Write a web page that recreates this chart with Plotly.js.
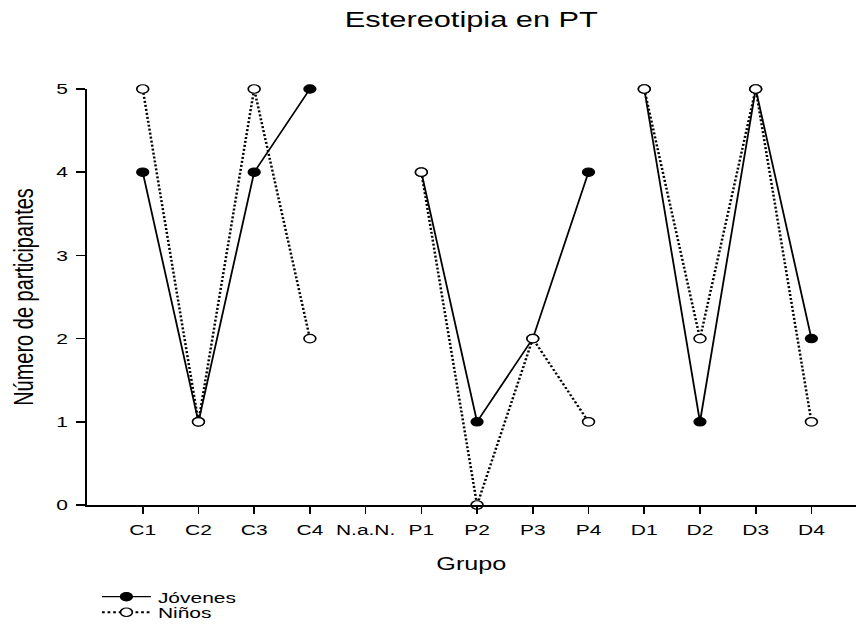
<!DOCTYPE html>
<html>
<head>
<meta charset="utf-8">
<script src="https://cdn.plot.ly/plotly-3.0.1.min.js"></script>
<style>
html,body{margin:0;padding:0;background:#fff;overflow:hidden;}
/* The figure is drawn narrow and widened to the page, giving its broad lettering and oval markers */
#chart{width:612px;height:629px;transform:scaleX(1.39869);transform-origin:0 0;}
</style>
</head>
<body>
<div id="chart"></div>
<script>
// Groups on the x axis; N.a.N. is an empty slot between the C and P groups
const categories = ['C1', 'C2', 'C3', 'C4', 'N.a.N.', 'P1', 'P2', 'P3', 'P4', 'D1', 'D2', 'D3', 'D4'];
const segments = [['C1', 'C2', 'C3', 'C4'], ['P1', 'P2', 'P3', 'P4'], ['D1', 'D2', 'D3', 'D4']];
const jovenes = [4, 1, 4, 5, null, 4, 1, 2, 4, 5, 1, 5, 2];
const ninos = [5, 1, 5, 2, null, 4, 0, 2, 1, 5, 2, 5, 1];
const yTicks = [0, 1, 2, 3, 4, 5];

const font = 'Liberation Sans, Arial, sans-serif';

// One trace per group so the lines break between C, P and D
function seriesTraces(name, values, legendId, style) {
  return segments.map((seg, i) => ({
    type: 'scatter',
    mode: 'lines+markers',
    name: name,
    legend: legendId,
    legendgroup: name,
    showlegend: i === 0,
    x: seg,
    y: seg.map(c => values[categories.indexOf(c)]),
    line: style.line,
    marker: style.marker,
    cliponaxis: false
  }));
}

const traces = [].concat(
  seriesTraces('Jóvenes', jovenes, 'legend', {
    line: {color: '#000', width: 1.3, dash: 'solid'},
    marker: {symbol: 'circle', size: 8.5, color: '#000', line: {color: '#000', width: 1}}
  }),
  seriesTraces('Niños', ninos, 'legend2', {
    line: {color: '#000', width: 1.8, dash: '2px,2px'},
    marker: {symbol: 'circle', size: 8.5, color: '#fff', line: {color: '#000', width: 1.2}}
  })
);

const legendStyle = {
  x: 0.0107, xanchor: 'left',
  yanchor: 'middle',
  bgcolor: 'rgba(0,0,0,0)',
  font: {family: font, size: 15, color: '#000'},
  itemwidth: 35
};

const layout = {
  width: 612,
  height: 629,
  paper_bgcolor: '#fff',
  plot_bgcolor: '#fff',
  margin: {l: 62, r: 0, t: 89, b: 124},
  font: {family: font, color: '#000', size: 15},
  title: {text: 'Estereotipia en PT', font: {family: font, size: 22, color: '#000'}, x: 0.5, xref: 'paper', y: 0.969, yref: 'container', yanchor: 'middle'},
  xaxis: {
    type: 'category',
    categoryorder: 'array',
    categoryarray: categories,
    range: [-1.005, 12.8],
    showgrid: false,
    zeroline: false,
    showline: true,
    linecolor: '#000',
    linewidth: 1.5,
    ticks: 'outside',
    ticklen: 7,
    tickwidth: 1.2,
    tickcolor: '#000',
    ticklabelstandoff: 4,
    tickfont: {family: font, size: 15, color: '#000'},
    title: {text: 'Grupo', font: {family: font, size: 18, color: '#000'}, standoff: 20}
  },
  yaxis: {
    range: [0, 5],
    tickvals: yTicks,
    showgrid: false,
    zeroline: false,
    showline: true,
    linecolor: '#000',
    linewidth: 1.5,
    ticks: 'outside',
    ticklen: 6,
    tickwidth: 1.5,
    tickcolor: '#000',
    ticklabelstandoff: 3,
    tickfont: {family: font, size: 15, color: '#000'},
    title: {text: 'Número de participantes', font: {family: font, size: 20, color: '#000'}, standoff: 10}
  },
  showlegend: true,
  legend: Object.assign({y: -0.221}, legendStyle),
  legend2: Object.assign({y: -0.2596}, legendStyle)
};

Plotly.newPlot('chart', traces, layout, {displayModeBar: false, staticPlot: true});
</script>
</body>
</html>
